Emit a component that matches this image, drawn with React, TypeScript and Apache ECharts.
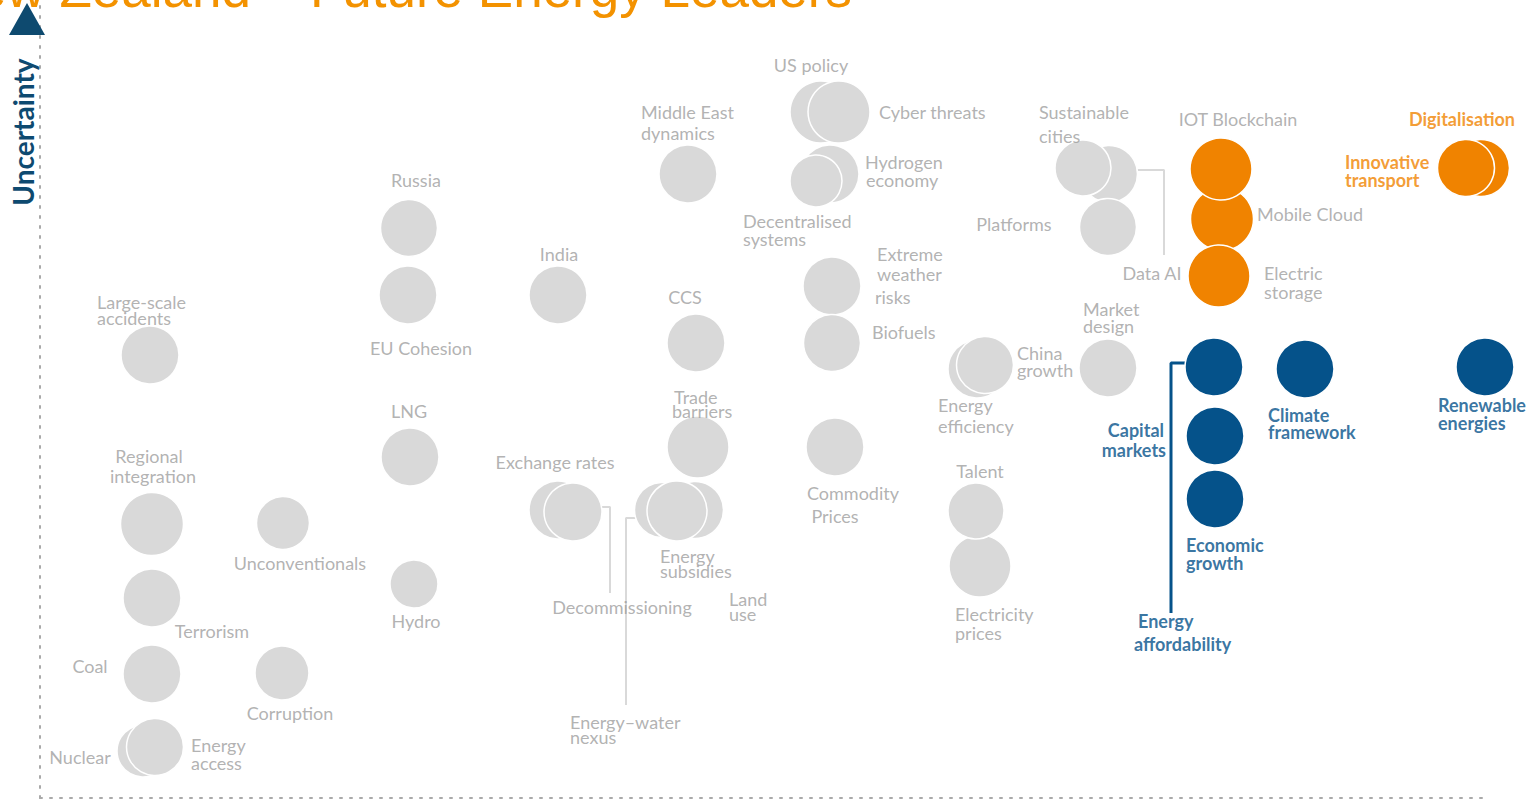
import React, { useEffect, useRef } from "react";
import * as echarts from "echarts";

// Bubbles: [name, impact (x), uncertainty (y), bubble diameter]
const greyBubbles: [string, number, number, number][] = [
  ["Large-scale accidents", 11.0, 44.3, 58],
  ["Russia", 36.9, 57.0, 57],
  ["EU Cohesion", 36.8, 50.3, 58],
  ["India", 51.8, 50.3, 58],
  ["LNG", 37.0, 34.1, 58],
  ["Regional integration", 11.2, 27.4, 63],
  ["Unconventionals", 24.3, 27.5, 53],
  ["Hydro", 37.4, 21.4, 48],
  ["Terrorism", 11.2, 20.0, 58],
  ["Coal", 11.2, 12.4, 58],
  ["Corruption", 24.2, 12.5, 54],
  ["Nuclear", 10.3, 4.7, 52],
  ["Energy access", 11.5, 5.1, 57],
  ["Middle East dynamics", 64.8, 62.4, 58],
  ["CCS", 65.6, 45.5, 58],
  ["Trade barriers", 65.8, 35.1, 62],
  ["Exchange rates", 51.8, 28.8, 58],
  ["Decommissioning", 53.3, 28.6, 58],
  ["Energy–water nexus", 62.2, 28.8, 55],
  ["Land use", 65.5, 28.8, 57],
  ["Energy subsidies", 63.7, 28.7, 60],
  ["US policy", 78.1, 68.6, 62],
  ["Cyber threats", 79.9, 68.6, 62],
  ["Hydrogen economy", 79.0, 62.4, 58],
  ["Decentralised systems", 77.6, 61.7, 52],
  ["Extreme weather risks", 79.2, 51.2, 58],
  ["Biofuels", 79.2, 45.5, 57],
  ["Commodity Prices", 79.5, 35.1, 58],
  ["Energy efficiency", 93.7, 42.9, 58],
  ["China growth", 94.5, 43.3, 57],
  ["Electricity prices", 94.0, 23.2, 62],
  ["Talent", 93.6, 28.7, 56],
  ["Market design", 106.8, 43.0, 58],
  ["Data AI", 106.9, 62.4, 57],
  ["Sustainable cities", 104.3, 63.0, 56],
  ["Platforms", 106.8, 57.1, 57],
];

const orangeBubbles: [string, number, number, number][] = [
  ["Mobile Cloud", 118.2, 57.9, 63],
  ["IOT Blockchain", 118.1, 62.9, 62],
  ["Electric storage", 117.9, 52.2, 62],
  ["Digitalisation", 144.1, 63.0, 57],
  ["Innovative transport", 142.6, 63.0, 57],
];

const blueBubbles: [string, number, number, number][] = [
  ["Energy affordability", 117.4, 43.1, 58],
  ["Capital markets", 117.5, 36.2, 58],
  ["Economic growth", 117.5, 29.9, 58],
  ["Climate framework", 126.5, 42.9, 58],
  ["Renewable energies", 144.5, 43.1, 58],
];

// Label lines: [text, x, y, align]
const greyLabels: [string, number, number, string][] = [
  ["Large-scale", 5.7, 49.6, "left"],
  ["accidents", 5.7, 48.0, "left"],
  ["Russia", 37.6, 61.8, "center"],
  ["EU Cohesion", 38.1, 45.0, "center"],
  ["India", 51.9, 54.4, "center"],
  ["LNG", 36.9, 38.7, "center"],
  ["Regional", 10.9, 34.2, "center"],
  ["integration", 11.3, 32.2, "center"],
  ["Unconventionals", 26.0, 23.5, "center"],
  ["Hydro", 37.6, 17.7, "center"],
  ["Terrorism", 17.2, 16.7, "center"],
  ["Coal", 5.0, 13.2, "center"],
  ["Corruption", 25.0, 8.5, "center"],
  ["Nuclear", 4.0, 4.1, "center"],
  ["Energy", 15.1, 5.3, "left"],
  ["access", 15.1, 3.5, "left"],
  ["Middle East", 60.1, 68.6, "left"],
  ["dynamics", 60.1, 66.5, "left"],
  ["CCS", 64.5, 50.1, "center"],
  ["Trade", 63.4, 40.1, "left"],
  ["barriers", 63.2, 38.7, "left"],
  ["Exchange rates", 51.5, 33.6, "center"],
  ["Decommissioning", 58.2, 19.1, "center"],
  ["Energy", 62.0, 24.2, "left"],
  ["subsidies", 62.0, 22.7, "left"],
  ["Land", 68.9, 19.9, "left"],
  ["use", 68.9, 18.4, "left"],
  ["Energy–water", 53.0, 7.6, "left"],
  ["nexus", 53.0, 6.1, "left"],
  ["Commodity", 81.3, 30.5, "center"],
  ["Prices", 79.5, 28.2, "center"],
  ["Extreme", 83.7, 54.4, "left"],
  ["weather", 83.7, 52.4, "left"],
  ["risks", 83.5, 50.1, "left"],
  ["Biofuels", 83.2, 46.6, "left"],
  ["US policy", 77.1, 73.3, "center"],
  ["Cyber threats", 83.9, 68.6, "left"],
  ["Hydrogen", 82.5, 63.6, "left"],
  ["economy", 82.6, 61.8, "left"],
  ["Decentralised", 70.3, 57.7, "left"],
  ["systems", 70.3, 55.9, "left"],
  ["Energy", 89.8, 39.3, "left"],
  ["efficiency", 89.8, 37.2, "left"],
  ["China", 97.7, 44.5, "left"],
  ["growth", 97.7, 42.8, "left"],
  ["Talent", 94.0, 32.7, "center"],
  ["Electricity", 91.5, 18.4, "left"],
  ["prices", 91.5, 16.5, "left"],
  ["Market", 104.3, 48.9, "left"],
  ["design", 104.3, 47.2, "left"],
  ["Sustainable", 99.9, 68.6, "left"],
  ["cities", 99.9, 66.2, "left"],
  ["Platforms", 97.4, 57.4, "center"],
  ["Data AI", 111.2, 52.5, "center"],
  ["IOT Blockchain", 119.8, 67.9, "center"],
  ["Mobile Cloud", 121.7, 58.4, "left"],
  ["Electric", 122.4, 52.5, "left"],
  ["storage", 122.4, 50.6, "left"],
];

const orangeLabels: [string, number, number, string][] = [
  ["Digitalisation", 142.2, 67.9, "center"],
  ["Innovative", 130.5, 63.6, "left"],
  ["transport", 130.5, 61.8, "left"],
];

const blueLabels: [string, number, number, string][] = [
  ["Capital", 112.4, 36.8, "right"],
  ["markets", 112.6, 34.8, "right"],
  ["Climate", 122.8, 38.3, "left"],
  ["framework", 122.8, 36.6, "left"],
  ["Renewable", 139.8, 39.3, "left"],
  ["energies", 139.8, 37.5, "left"],
  ["Economic", 114.6, 25.3, "left"],
  ["growth", 114.6, 23.5, "left"],
  ["Energy", 109.8, 17.7, "left"],
  ["affordability", 109.4, 15.4, "left"],
];

// Connector polylines in data coordinates
const greyConnectors: [number, number][][] = [
  [[56.0, 29.1], [57.0, 29.1], [57.0, 20.5]],
  [[59.8, 28.0], [58.6, 28.0], [58.6, 9.3]],
  [[109.7, 62.8], [112.4, 62.8], [112.4, 54.3]],
];
const blueConnectors: [number, number][][] = [
  [[114.5, 43.5], [113.1, 43.5], [113.1, 18.5]],
];

const TITLE = "New Zealand – Future Energy Leaders";
const Y_NAME = "Uncertainty";

const GREY = "#d9d9d9";
const GREY_TEXT = "#9e9e9e";
const ORANGE = "#f08300";
const BLUE = "#05528a";
const LABEL_FONT = "Lato, sans-serif";

function bubbleSeries(data: [string, number, number, number][], color: string) {
  return {
    type: "scatter",
    silent: true,
    z: 3,
    data: data.map((d) => ({ name: d[0], value: [d[1], d[2], d[3]] })),
    symbolSize: (v: number[]) => v[2],
    itemStyle: { color, borderColor: "#ffffff", borderWidth: 1.5, opacity: 1 },
    emphasis: { disabled: true },
  };
}

function labelSeries(
  data: [string, number, number, string][],
  color: string,
  fontWeight: string
) {
  return {
    type: "scatter",
    silent: true,
    z: 5,
    symbolSize: 0,
    data: data.map((d) => ({
      name: d[0],
      value: [d[1], d[2]],
      label: { align: d[3] },
    })),
    label: {
      show: true,
      position: "inside",
      formatter: (p: any) => p.name,
      color,
      fontSize: 18,
      fontWeight,
      fontFamily: LABEL_FONT,
      verticalAlign: "middle",
    },
    emphasis: { disabled: true },
  };
}

function connectorSeries(lines: [number, number][][], color: string, width: number) {
  return lines.map((pts) => ({
    type: "line",
    silent: true,
    z: 1,
    symbol: "none",
    data: pts,
    lineStyle: { color, width },
    emphasis: { disabled: true },
  }));
}

export default function App() {
  const ref = useRef<HTMLDivElement>(null);
  useEffect(() => {
    if (!ref.current) return;
    const chart = echarts.init(ref.current, undefined, { renderer: "svg" });
    const axisLine = {
      show: true,
      onZero: false,
      lineStyle: { color: "#a9a9a9", width: 2, type: [2, 8] },
    };
    chart.setOption({
      animation: false,
      grid: { left: 40, right: 47, top: 0, bottom: 2 },
      xAxis: {
        type: "value",
        min: 0,
        max: 145,
        axisLine,
        axisTick: { show: false },
        axisLabel: { show: false },
        splitLine: { show: false },
      },
      yAxis: {
        type: "value",
        min: 0,
        max: 79.8,
        axisLine,
        axisTick: { show: false },
        axisLabel: { show: false },
        splitLine: { show: false },
      },
      graphic: [
        {
          type: "text",
          x: 852,
          y: -12,
          z: 10,
          style: {
            text: TITLE,
            fill: "#f39200",
            font: "53px 'Liberation Sans', Arial, sans-serif",
            align: "right",
            verticalAlign: "middle",
          },
        },
        {
          type: "polygon",
          z: 11,
          shape: { points: [[9, 35], [45, 35], [27, 3]] },
          style: { fill: "#0e4a6f" },
        },
        {
          type: "text",
          x: 23,
          y: 132,
          rotation: Math.PI / 2,
          z: 10,
          style: {
            text: Y_NAME,
            fill: "#0e4a70",
            font: "bold 28px Lato, sans-serif",
            align: "center",
            verticalAlign: "middle",
          },
        },
      ],
      series: [
        ...connectorSeries(greyConnectors, GREY, 2),
        ...connectorSeries(blueConnectors, BLUE, 3),
        bubbleSeries(greyBubbles, GREY),
        bubbleSeries(orangeBubbles, ORANGE),
        bubbleSeries(blueBubbles, BLUE),
        labelSeries(greyLabels, GREY_TEXT, "normal"),
        labelSeries(orangeLabels, ORANGE, "bold"),
        labelSeries(blueLabels, BLUE, "bold"),
      ],
    });
    return () => chart.dispose();
  }, []);
  return (
    <div
      ref={ref}
      style={{ position: "absolute", left: 0, top: 0, width: 1537, height: 800 }}
    />
  );
}
